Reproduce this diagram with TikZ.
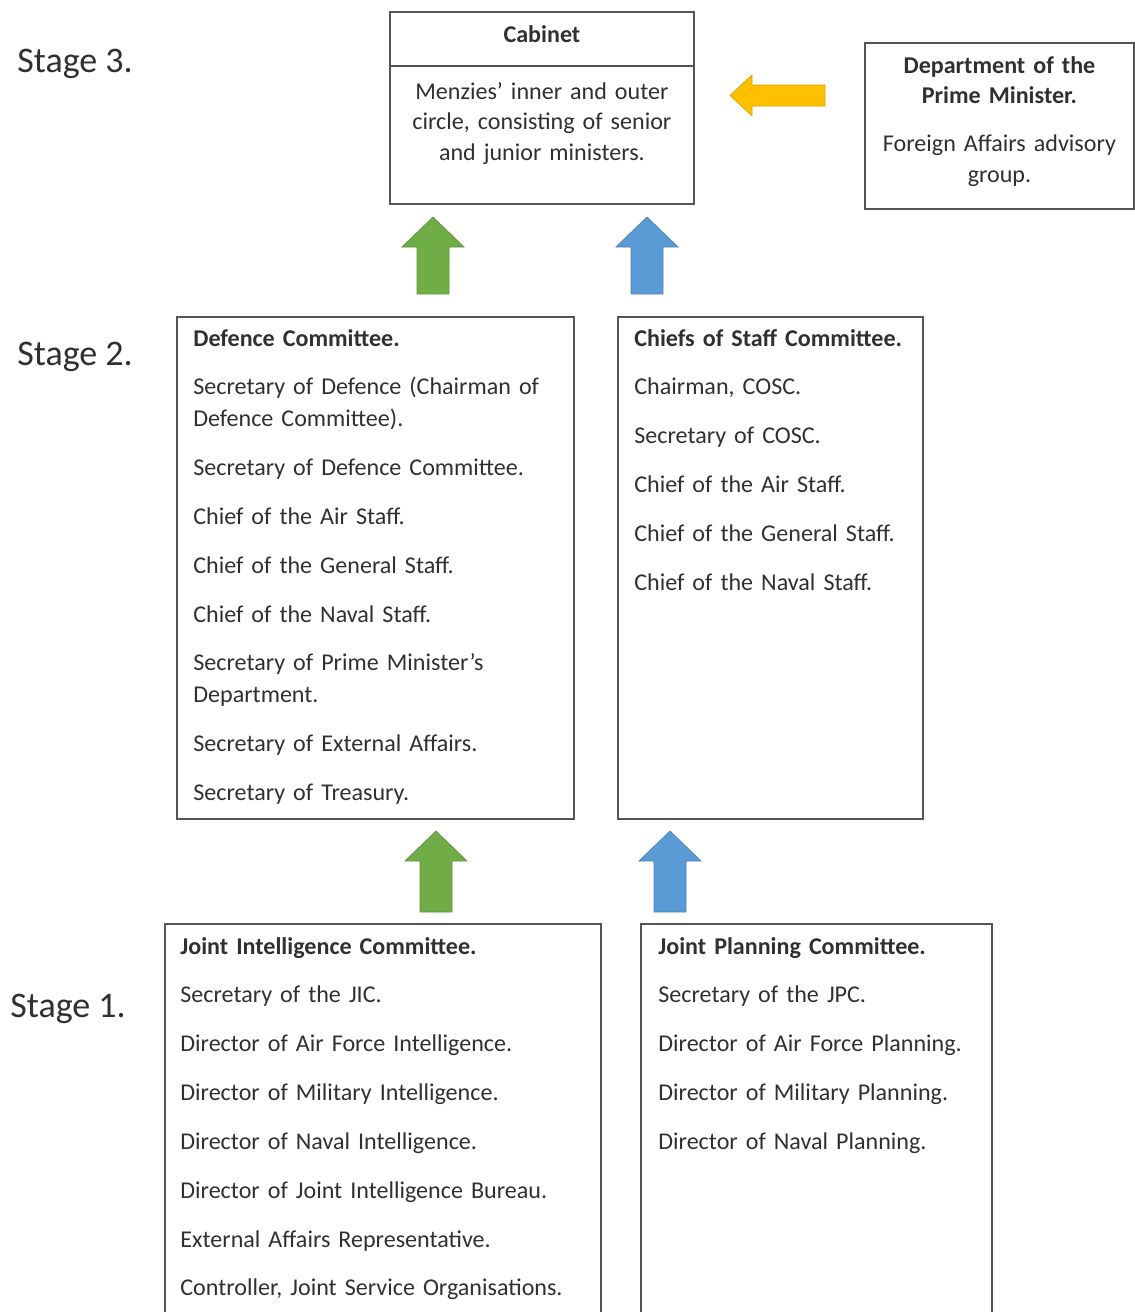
\documentclass[tikz,border=0pt]{standalone}
\usepackage{fontspec}
\setmainfont{Carlito}
\usepackage{tikz}
\usetikzlibrary{positioning}

\definecolor{boxgray}{HTML}{555555}
\definecolor{txtgray}{HTML}{303030}
\definecolor{arrgreen}{HTML}{70AD47}
\definecolor{arrblue}{HTML}{5B9BD5}
\definecolor{arrgold}{HTML}{FFC000}

\newcommand{\itemgap}{\\[9.7pt]}
% fat upward arrow: colour, x, bottom, tip
\newcommand{\fatup}[4]{%
  \filldraw[fill=#1, draw=#1!85!black, line width=0.4pt]
    ({#2-16},#3) -- ({#2-16},{#4+30}) -- ({#2-31},{#4+30}) -- (#2,#4)
    -- ({#2+31},{#4+30}) -- ({#2+16},{#4+30}) -- ({#2+16},#3) -- cycle;}

\tikzset{
  panel/.style={draw=boxgray, line width=1.1pt, inner sep=0pt, anchor=north west},
  itemtxt/.style={inner sep=0pt, anchor=base west, align=left, text=txtgray,
    font=\fontsize{13.7}{18.1}\selectfont},
  ctxt/.style={inner sep=0pt, anchor=base, align=center, text=txtgray,
    font=\fontsize{13.7}{17.6}\selectfont},
  stage/.style={inner sep=0pt, anchor=base west, text=txtgray,
    font=\fontsize{20.5}{24}\selectfont}
}

\begin{document}
\begin{tikzpicture}[x=0.02cm, y=-0.02cm]
\useasboundingbox (0,0) rectangle (1135,1312);

% stage labels
\node[stage] (s3) at (17,72) {Stage 3.};
\node[stage] (s2) at (17,365) {Stage 2.};
\node[stage] (s1) at (10,1017) {Stage 1.};

% stage 3
\node[panel, minimum width=6.08cm, minimum height=3.84cm] (cab) at (389,11) {};
\draw[boxgray, line width=1.1pt] ([shift={(0,55)}]cab.north west) -- ([shift={(0,55)}]cab.north east);
\node[ctxt, text width=5.8cm] (cabT) at ([shift={(0,31)}]cab.north) {\bfseries Cabinet};
\node[ctxt, text width=5.8cm] (cabB) at ([shift={(0,88)}]cab.north)
  {Menzies' inner and outer\\circle, consisting of senior\\and junior ministers.};

\node[panel, minimum width=5.38cm, minimum height=3.32cm] (dpm) at (864,42) {};
\node[ctxt, text width=5.2cm] (dpmT) at ([shift={(0,31)}]dpm.north)
  {{\bfseries Department of the\\Prime Minister.}\itemgap Foreign Affairs advisory\\group.};

\filldraw[fill=arrgold, draw=arrgold!85!black, line width=0.4pt]
  (825,85) -- (752,85) -- (752,75) -- (730,95.5) -- (752,116) -- (752,106) -- (825,106) -- cycle;

\fatup{arrgreen}{433}{294}{217}
\fatup{arrblue}{647}{294}{217}

% stage 2
\node[panel, minimum width=7.94cm, minimum height=10.04cm] (defc) at (176,316) {};
\node[itemtxt, text width=7.4cm] (defcT) at ([shift={(17,30)}]defc.north west)
  {\textbf{Defence Committee.}\itemgap
   Secretary of Defence (Chairman of\\Defence Committee).\itemgap
   Secretary of Defence Committee.\itemgap
   Chief of the Air Staff.\itemgap
   Chief of the General Staff.\itemgap
   Chief of the Naval Staff.\itemgap
   Secretary of Prime Minister's\\Department.\itemgap
   Secretary of External Affairs.\itemgap
   Secretary of Treasury.};

\node[panel, minimum width=6.10cm, minimum height=10.04cm] (cosc) at (617,316) {};
\node[itemtxt, text width=5.7cm] (coscT) at ([shift={(17,30)}]cosc.north west)
  {\textbf{Chiefs of Staff Committee.}\itemgap
   Chairman, COSC.\itemgap
   Secretary of COSC.\itemgap
   Chief of the Air Staff.\itemgap
   Chief of the General Staff.\itemgap
   Chief of the Naval Staff.};

\fatup{arrgreen}{436}{912}{831}
\fatup{arrblue}{670}{912}{831}

% stage 1
\node[panel, minimum width=8.72cm, minimum height=8.2cm] (jic) at (164,923) {};
\node[itemtxt, text width=8.2cm] (jicT) at ([shift={(16,31)}]jic.north west)
  {\textbf{Joint Intelligence Committee.}\itemgap
   Secretary of the JIC.\itemgap
   Director of Air Force Intelligence.\itemgap
   Director of Military Intelligence.\itemgap
   Director of Naval Intelligence.\itemgap
   Director of Joint Intelligence Bureau.\itemgap
   External Affairs Representative.\itemgap
   Controller, Joint Service Organisations.};

\node[panel, minimum width=7.02cm, minimum height=8.2cm] (jpc) at (640,923) {};
\node[itemtxt, text width=6.6cm] (jpcT) at ([shift={(18,31)}]jpc.north west)
  {\textbf{Joint Planning Committee.}\itemgap
   Secretary of the JPC.\itemgap
   Director of Air Force Planning.\itemgap
   Director of Military Planning.\itemgap
   Director of Naval Planning.};
\end{tikzpicture}
\end{document}
